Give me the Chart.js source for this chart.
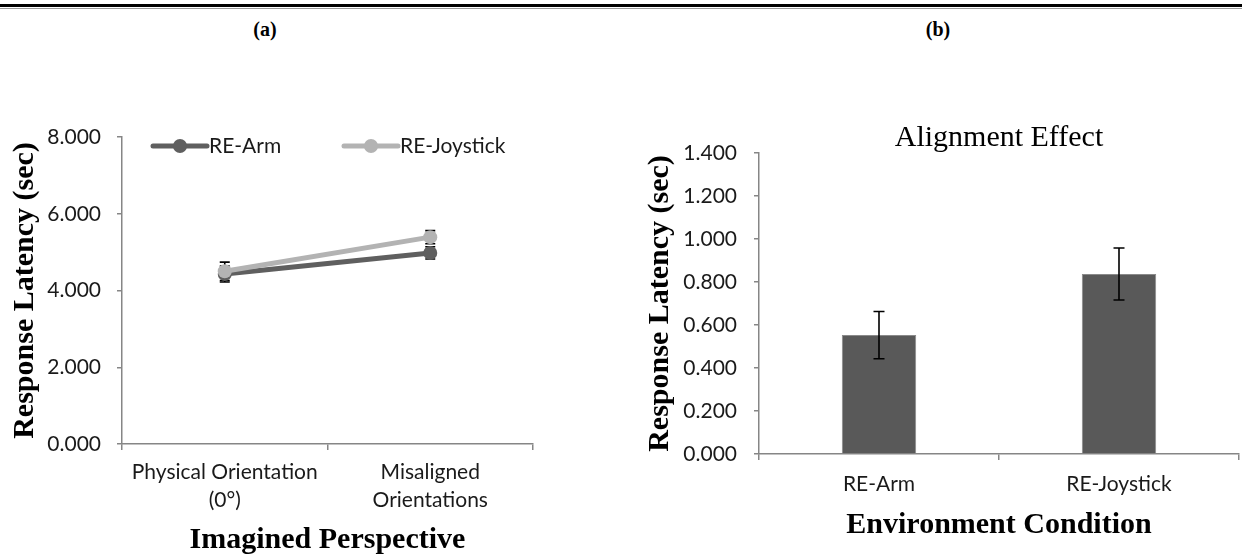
<!DOCTYPE html>
<html>
<head>
<meta charset="utf-8">
<script src="https://cdn.jsdelivr.net/npm/chart.js@4.4.0/dist/chart.umd.min.js"></script>
<style>
    html, body { margin: 0; padding: 0; background: #fff; }
    body { width: 1242px; height: 556px; position: relative; overflow: hidden; }
    .rule { position: absolute; left: 0; top: 4px; width: 1242px; height: 3px; background: #000; }
    .rule2 { position: absolute; left: 0; top: 8px; width: 1242px; height: 1px; background: #9a9a9a; }
    .tag { position: absolute; top: 18px; width: 60px; margin-left: -30px; text-align: center;
           font: bold 20px "Liberation Serif", serif; color: #000; }
    #boxA { position: absolute; left: 0; top: 100px; width: 600px; height: 456px; }
    #boxB { position: absolute; left: 621px; top: 100px; width: 621px; height: 456px; }
</style>
</head>
<body>
<div class="rule"></div>
<div class="rule2"></div>
<div class="tag" style="left:265px">(a)</div>
<div class="tag" style="left:938px">(b)</div>
<div id="boxA"><canvas id="chartA" width="600" height="456"></canvas></div>
<div id="boxB"><canvas id="chartB" width="621" height="456"></canvas></div>

<script>
// (a) response latency by imagined perspective
const perspectives = [['Physical Orientation', '(0°)'], ['Misaligned', 'Orientations']];
const armLatency = [4.43, 4.98];
const armError = [0.21, 0.16];
const joystickLatency = [4.50, 5.39];
const joystickError = [0.24, 0.17];

// (b) alignment effect by environment condition
const conditions = ['RE-Arm', 'RE-Joystick'];
const alignmentEffect = [0.553, 0.837];
const alignmentError = [0.110, 0.121];

const AXIS = '#868686';
const TXT = '#1a1a1a';
const tickFont = { family: 'Lato', size: 21 };
const titleFont = { family: 'Liberation Serif', size: 30, weight: 'bold', lineHeight: 1 };

function drawErrors(chart, opts) {
    const ctx = chart.ctx;
    const y = chart.scales.y;
    chart.data.datasets.forEach((ds, i) => {
        if (!ds.errors) return;
        const meta = chart.getDatasetMeta(i);
        meta.data.forEach((el, j) => {
            const top = y.getPixelForValue(ds.data[j] + ds.errors[j]);
            const bot = y.getPixelForValue(ds.data[j] - ds.errors[j]);
            const half = opts.cap / 2;
            ctx.save();
            ctx.strokeStyle = '#000';
            ctx.lineWidth = 1.6;
            ctx.beginPath();
            ctx.moveTo(el.x, top); ctx.lineTo(el.x, bot);
            ctx.moveTo(el.x - half, top); ctx.lineTo(el.x + half, top);
            ctx.moveTo(el.x - half, bot); ctx.lineTo(el.x + half, bot);
            ctx.stroke();
            ctx.restore();
        });
    });
}

const errorBars = {
    id: 'errorBars',
    beforeDatasetsDraw(chart, args, opts) { if (opts.behind) drawErrors(chart, opts); },
    afterDatasetsDraw(chart, args, opts) { if (!opts.behind) drawErrors(chart, opts); }
};

// legend sits inside the plot area, like the original
const lineLegend = {
    id: 'lineLegend',
    afterDatasetsDraw(chart, args, opts) {
        const { ctx, chartArea } = chart;
        let x = chartArea.left + opts.left;
        const y = chartArea.top + opts.top;
        chart.data.datasets.forEach(ds => {
            ctx.save();
            ctx.strokeStyle = ds.borderColor;
            ctx.lineWidth = ds.borderWidth;
            ctx.lineCap = 'round';
            ctx.beginPath();
            ctx.moveTo(x, y); ctx.lineTo(x + opts.sample, y);
            ctx.stroke();
            ctx.fillStyle = ds.pointBackgroundColor;
            ctx.beginPath();
            ctx.arc(x + opts.sample / 2, y, ds.pointRadius, 0, Math.PI * 2);
            ctx.fill();
            ctx.fillStyle = TXT;
            ctx.font = '21px Lato';
            ctx.textBaseline = 'middle';
            ctx.fillText(ds.label, x + opts.sample + 2, y);
            ctx.restore();
            x += opts.spacing;
        });
    }
};

new Chart(document.getElementById('chartA'), {
    type: 'line',
    data: {
        labels: perspectives,
        datasets: [
            {
                label: 'RE-Arm', data: armLatency, errors: armError, order: 1,
                borderColor: '#5f5f5f', backgroundColor: '#5f5f5f', pointBackgroundColor: '#5f5f5f',
                pointBorderWidth: 0, pointRadius: 7, borderWidth: 5, borderCapStyle: 'round'
            },
            {
                label: 'RE-Joystick', data: joystickLatency, errors: joystickError, order: 0,
                borderColor: '#b3b3b3', backgroundColor: '#b3b3b3', pointBackgroundColor: '#b3b3b3',
                pointBorderWidth: 0, pointRadius: 7, borderWidth: 5, borderCapStyle: 'round'
            }
        ]
    },
    options: {
        responsive: false,
        animation: false,
        devicePixelRatio: 1,
        layout: { padding: { top: 37, right: 67, bottom: 0, left: 0 } },
        plugins: {
            legend: { display: false },
            tooltip: { enabled: false },
            errorBars: { behind: true, cap: 10 },
            lineLegend: { left: 31, top: 9, sample: 54, spacing: 191 }
        },
        scales: {
            x: {
                offset: true,
                grid: { offset: true, drawOnChartArea: false, color: AXIS, tickLength: 6, lineWidth: 1.5 },
                border: { color: AXIS, width: 1.5 },
                ticks: { color: TXT, font: { family: 'Lato', size: 21, lineHeight: 1.3 }, padding: 9, maxRotation: 0 },
                title: { display: true, text: 'Imagined Perspective', color: '#000', font: titleFont, padding: { top: 0, bottom: 1 } },
                afterFit(scale) { scale.height = 112; }
            },
            y: {
                min: 0, max: 8,
                grid: { drawOnChartArea: false, color: AXIS, tickLength: 5, lineWidth: 1.5 },
                border: { color: AXIS, width: 1.5 },
                ticks: { stepSize: 2, color: TXT, font: tickFont, padding: 16, callback: v => v.toFixed(3) },
                title: { display: true, text: 'Response Latency (sec)', color: '#000', font: titleFont, padding: { top: 10, bottom: 0 } },
                afterFit(scale) { scale.width = 122; }
            }
        }
    },
    plugins: [errorBars, lineLegend]
});

new Chart(document.getElementById('chartB'), {
    type: 'bar',
    data: {
        labels: conditions,
        datasets: [{
            label: 'Alignment Effect', data: alignmentEffect, errors: alignmentError,
            backgroundColor: '#595959', borderColor: '#8a8a8a', borderWidth: 1,
            barPercentage: 0.31, categoryPercentage: 1
        }]
    },
    options: {
        responsive: false,
        animation: false,
        devicePixelRatio: 1,
        layout: { padding: { top: 0, right: 3, bottom: 0, left: 0 } },
        plugins: {
            legend: { display: false },
            tooltip: { enabled: false },
            errorBars: { behind: false, cap: 11 },
            title: {
                display: true, text: 'Alignment Effect', color: '#000', fullSize: false,
                font: { family: 'Liberation Serif', size: 30, weight: 'normal', lineHeight: 1 },
                padding: { top: 23, bottom: 0 }
            }
        },
        scales: {
            x: {
                grid: { offset: true, drawOnChartArea: false, color: AXIS, tickLength: 6, lineWidth: 1.5 },
                border: { color: AXIS, width: 1.5 },
                ticks: { color: TXT, font: { family: 'Lato', size: 21, lineHeight: 1.3 }, padding: 11 },
                title: { display: true, text: 'Environment Condition', color: '#000', font: titleFont, padding: { top: 0, bottom: 16 } },
                afterFit(scale) { scale.height = 102; }
            },
            y: {
                min: 0, max: 1.4,
                grid: { drawOnChartArea: false, color: AXIS, tickLength: 5, lineWidth: 1.5 },
                border: { color: AXIS, width: 1.5 },
                ticks: { stepSize: 0.2, color: TXT, font: tickFont, padding: 17, callback: v => v.toFixed(3) },
                title: { display: true, text: 'Response Latency (sec)', color: '#000', font: titleFont, padding: { top: 24, bottom: 0 } },
                afterFit(scale) { scale.width = 138; }
            }
        }
    },
    plugins: [errorBars]
});
</script>
</body>
</html>
